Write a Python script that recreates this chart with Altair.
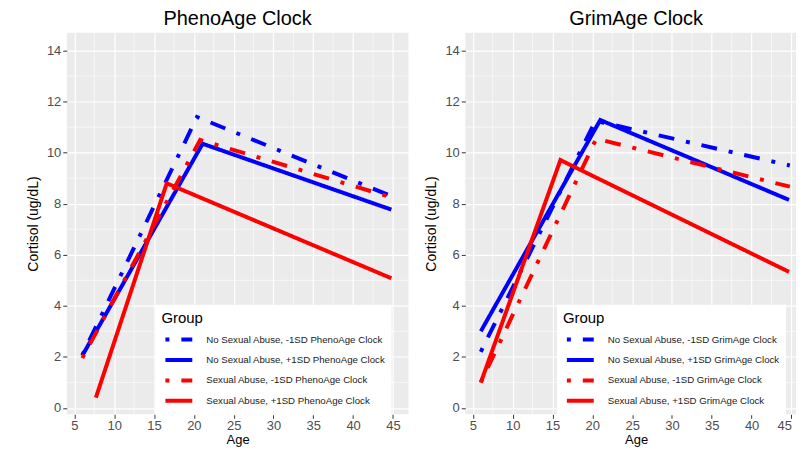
import altair as alt
import pandas as pd

# ---------------- data ----------------
PANEL_TITLES = ["PhenoAge Clock", "GrimAge Clock"]

PHENO_GROUPS = [
    "No Sexual Abuse, -1SD PhenoAge Clock",
    "No Sexual Abuse, +1SD PhenoAge Clock",
    "Sexual Abuse, -1SD PhenoAge Clock",
    "Sexual Abuse, +1SD PhenoAge Clock",
]
GRIM_GROUPS = [
    "No Sexual Abuse, -1SD GrimAge Clock",
    "No Sexual Abuse, +1SD GrimAge Clock",
    "Sexual Abuse, -1SD GrimAge Clock",
    "Sexual Abuse, +1SD GrimAge Clock",
]

PHENO_AGE = [[6.0, 20.4, 44.8], [6.0, 21.1, 44.8], [6.0, 20.8, 44.8], [7.7, 16.6, 44.8]]
PHENO_CORT = [[2.07, 11.4, 8.3], [2.05, 10.35, 7.77], [1.95, 10.5, 8.25], [0.4, 8.8, 5.08]]

GRIM_AGE = [[6.0, 20.4, 44.8], [6.0, 21.0, 44.7], [6.0, 20.5, 44.8], [6.0, 16.0, 44.7]]
GRIM_CORT = [[2.2, 11.25, 9.5], [3.0, 11.28, 8.15], [1.0, 10.55, 8.67], [0.99, 9.71, 5.33]]

X_TICKS = [5, 10, 15, 20, 25, 30, 35, 40, 45]
Y_TICKS = [0, 2, 4, 6, 8, 10, 12, 14]
X_MINOR = [7.5, 12.5, 17.5, 22.5, 27.5, 32.5, 37.5, 42.5]
Y_MINOR = [1, 3, 5, 7, 9, 11, 13]

COLORS = ["#0000FF", "#0000FF", "#FF0000", "#FF0000"]
DASHES = [[4, 12, 16, 12], [1, 0], [4, 12, 16, 12], [1, 0]]

FONT = "Liberation Sans"
W, H = 343, 383
XDOM = [4.05, 46.95]
YDOM = [-0.25, 14.7]


def make_xaxis(flush_last):
    kw = dict(
        values=X_TICKS, title="Age", grid=True, gridColor="white",
        gridWidth=1.2, domain=False, tickColor="#333333", tickSize=4,
        labelPadding=1.5, labelFontSize=13, labelColor="#4D4D4D",
        titleFontSize=13, titlePadding=1, titleColor="black",
        labelFont=FONT, titleFont=FONT, titleFontWeight="normal",
    )
    if flush_last:
        kw["labelAlign"] = {"condition": {"test": "datum.value >= 45", "value": "right"},
                            "value": "center"}
    return alt.Axis(**kw)


YAXIS = alt.Axis(
    values=Y_TICKS, title="Cortisol (ug/dL)", grid=True,
    gridColor="white", gridWidth=1.2, domain=False,
    tickColor="#333333", tickSize=4, labelPadding=2,
    labelFontSize=13, labelColor="#4D4D4D", titleFontSize=14,
    titlePadding=6, titleColor="black", labelFont=FONT,
    titleFont=FONT, titleFontWeight="normal",
)


def panel(title, groups, ages, corts, legend_x, flush_last):
    rows = []
    for g, a, c in zip(groups, ages, corts):
        for ai, ci in zip(a, c):
            rows.append({"Age": ai, "Cortisol": ci, "Group": g})
    df = pd.DataFrame(rows)

    xaxis = make_xaxis(flush_last)
    xscale = alt.Scale(domain=XDOM, nice=False, zero=False)
    yscale = alt.Scale(domain=YDOM, nice=False, zero=False)

    minor_x = alt.Chart(pd.DataFrame({"Age": X_MINOR})).mark_rule(
        color="white", strokeWidth=0.6
    ).encode(x=alt.X("Age:Q", scale=xscale, axis=xaxis))
    minor_y = alt.Chart(pd.DataFrame({"Cortisol": Y_MINOR})).mark_rule(
        color="white", strokeWidth=0.6
    ).encode(y=alt.Y("Cortisol:Q", scale=yscale, axis=YAXIS))

    legend = alt.Legend(
        title="Group",
        orient="none",
        legendX=legend_x,
        legendY=273,
        direction="vertical",
        fillColor="white",
        padding=6,
        titleFontSize=15,
        titleFont=FONT,
        titleFontWeight="normal",
        titleColor="black",
        titlePadding=7,
        labelFont=FONT,
        labelFontSize=9.7,
        labelColor="#1a1a1a",
        labelLimit=400,
        symbolType="M-2.7,0H2.7",
        symbolSize=100,
        symbolStrokeWidth=4,
        symbolOffset=10.5,
        labelOffset=20.5,
        rowPadding=4.5,
    )

    lines = alt.Chart(df).mark_line(strokeWidth=4, strokeCap="butt").encode(
        x=alt.X("Age:Q", scale=xscale, axis=xaxis),
        y=alt.Y("Cortisol:Q", scale=yscale, axis=YAXIS),
        color=alt.Color(
            "Group:N",
            scale=alt.Scale(domain=groups, range=COLORS),
            legend=legend,
        ),
        strokeDash=alt.StrokeDash(
            "Group:N",
            scale=alt.Scale(domain=groups, range=DASHES),
            legend=legend,
        ),
    )

    return alt.layer(minor_x, minor_y, lines).properties(
        width=W,
        height=H,
        title=alt.TitleParams(
            text=title, fontSize=20, font=FONT, fontWeight="normal",
            color="black", anchor="middle", offset=3,
        ),
    )


left = panel(PANEL_TITLES[0], PHENO_GROUPS, PHENO_AGE, PHENO_CORT, 89, False)
right = panel(PANEL_TITLES[1], GRIM_GROUPS, GRIM_AGE, GRIM_CORT, 92, True)

chart = (
    alt.hconcat(left, right, spacing=15)
    .resolve_scale(color="independent", strokeDash="independent")
    .resolve_legend(color="independent", strokeDash="independent")
    .configure_view(fill="#EBEBEB", strokeWidth=0)
    .properties(
        background="white",
        padding={"left": 18, "top": 0, "right": -12, "bottom": 0},
    )
)

chart.save("out.html", embed_options={"renderer": "svg", "actions": False})
